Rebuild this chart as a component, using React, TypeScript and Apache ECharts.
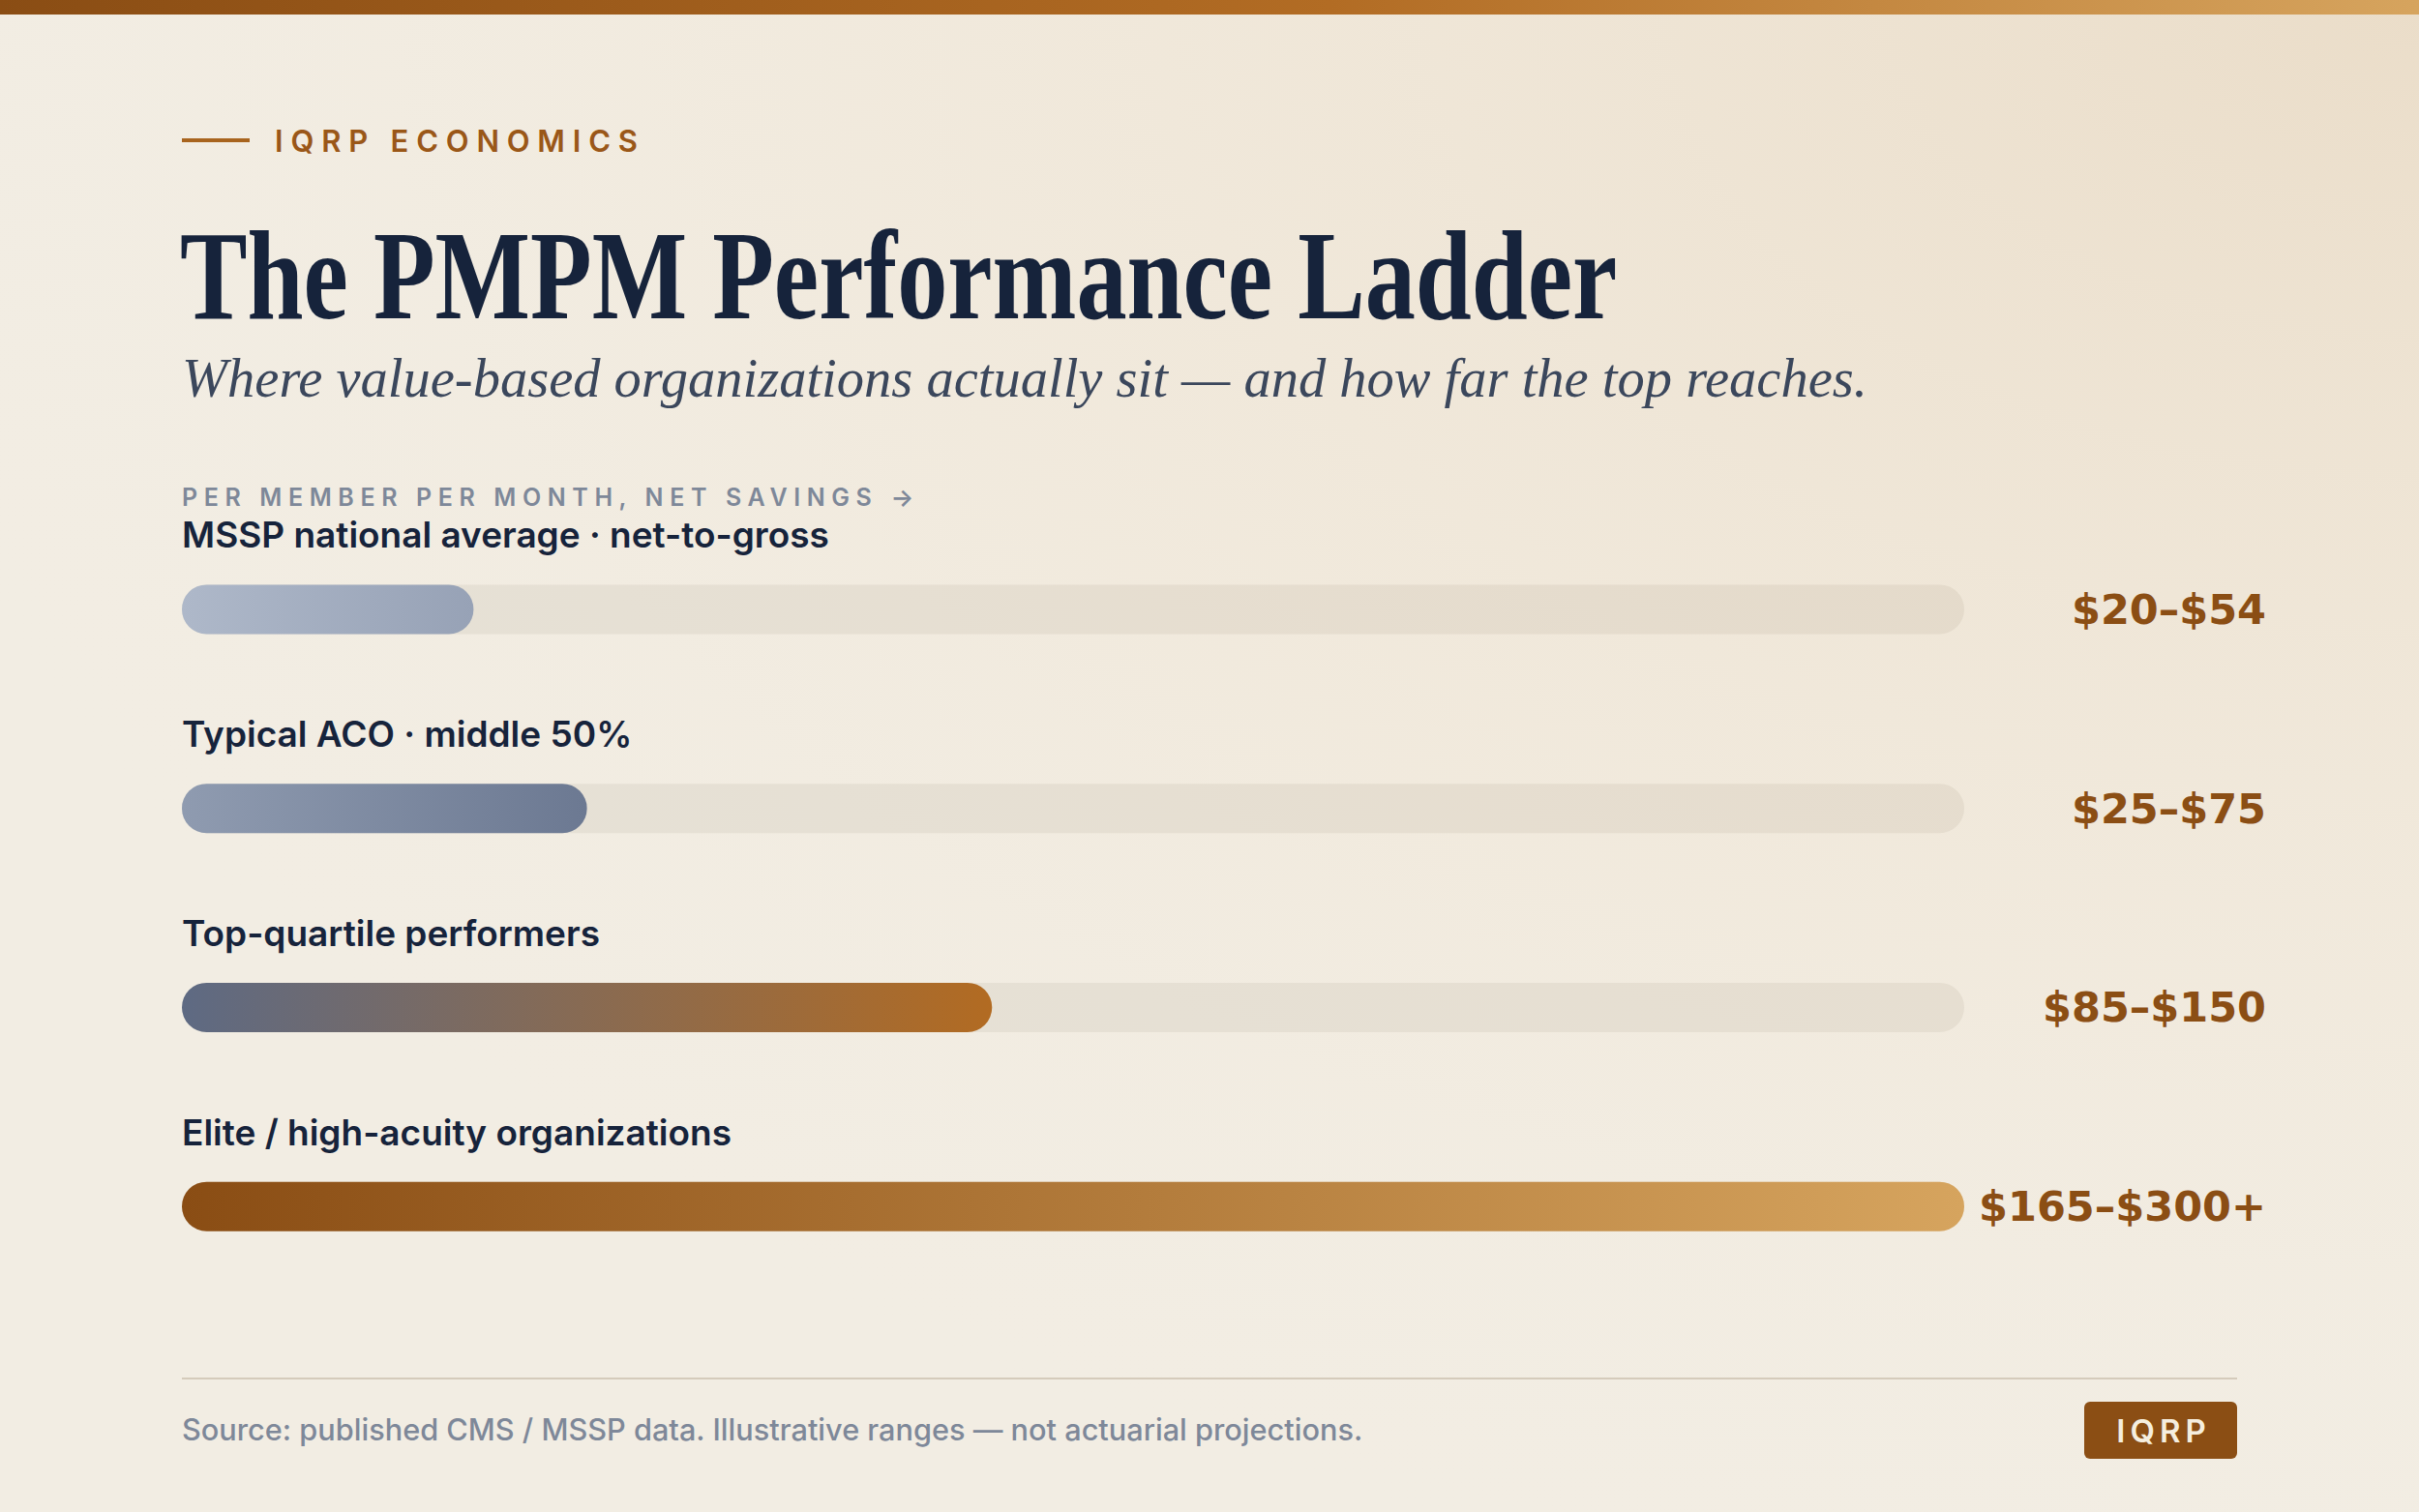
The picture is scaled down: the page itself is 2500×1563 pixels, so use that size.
import React, { useEffect, useRef } from 'react';
import * as echarts from 'echarts';

// ---- data ----
const categories = [
  'MSSP national average · net-to-gross',
  'Typical ACO · middle 50%',
  'Top-quartile performers',
  'Elite / high-acuity organizations',
];
const lowValues = [20, 25, 85, 165];
const highValues = [54, 75, 150, 300];
const openEnded = [false, false, false, true];
const axisMax = 330;
const rangeLabels = lowValues.map(
  (lo, i) => `$${lo}–$${highValues[i]}${openEnded[i] ? '+' : ''}`
);
// open-ended tier runs to the end of the track
const barValues = highValues.map((v, i) => (openEnded[i] ? axisMax : v));
const barGradients = [
  ['#AEB8C9', '#97A2B6'],
  ['#8F9BB0', '#6C7992'],
  ['#5E6A83', '#B26B22'],
  ['#8A4D14', '#D6A45E'],
];

const kicker = 'IQRP ECONOMICS';
const titleText = 'The PMPM Performance Ladder';
const subtitleText =
  'Where value-based organizations actually sit — and how far the top reaches.';
const axisCaption = 'PER MEMBER PER MONTH, NET SAVINGS →';
const sourceText =
  'Source: published CMS / MSSP data. Illustrative ranges — not actuarial projections.';
const badgeText = 'IQRP';

const NAVY = '#16233B';
const BRONZE = '#8B4E14';
const GREY = '#7E8899';

// tracking (letter-spacing, px) for the spaced-out caps texts
const tracking: Record<string, number> = {
  [kicker]: 7.8,
  [axisCaption]: 6.6,
  [badgeText]: 5,
};

function lin(c0: string, c1: string) {
  return new echarts.graphic.LinearGradient(0, 0, 1, 0, [
    { offset: 0, color: c0 },
    { offset: 1, color: c1 },
  ]);
}

export default function App() {
  const ref = useRef<HTMLDivElement>(null);

  useEffect(() => {
    if (!ref.current) return;
    const el = ref.current;
    const chart = echarts.init(el, undefined, { renderer: 'svg' });

    const applyTracking = () => {
      el.querySelectorAll('text').forEach((t) => {
        const s = tracking[t.textContent || ''];
        if (s !== undefined) t.setAttribute('letter-spacing', String(s));
      });
    };

    const option: any = {
      animation: false,
      backgroundColor: '#F2EDE3',
      grid: { left: 188, right: 470, top: 527, bottom: 213, containLabel: false },
      xAxis: { type: 'value', min: 0, max: axisMax, show: false },
      yAxis: [
        {
          type: 'category',
          data: categories,
          inverse: true,
          axisLine: { show: false },
          axisTick: { show: false },
          splitLine: { show: false },
          axisLabel: {
            inside: true,
            margin: 0,
            align: 'left',
            verticalAlign: 'bottom',
            lineHeight: 42,
            padding: [0, 0, 56, 0],
            color: NAVY,
            fontFamily: 'Inter',
            fontWeight: 600,
            fontSize: 37,
          },
        },
        {
          type: 'category',
          data: rangeLabels,
          inverse: true,
          position: 'right',
          axisLine: { show: false },
          axisTick: { show: false },
          splitLine: { show: false },
          axisLabel: {
            margin: 312,
            align: 'right',
            verticalAlign: 'middle',
            color: BRONZE,
            fontFamily: 'DejaVu Sans',
            fontWeight: 'bold',
            fontSize: 43,
          },
        },
      ],
      graphic: [
        {
          type: 'rect',
          z: -100,
          silent: true,
          shape: { x: 0, y: 0, width: 2500, height: 1563 },
          style: {
            fill: {
              type: 'radial',
              x: 1,
              y: 0,
              r: 1.1,
              colorStops: [
                { offset: 0, color: 'rgba(233,218,196,0.85)' },
                { offset: 0.6, color: 'rgba(240,230,214,0.45)' },
                { offset: 1, color: 'rgba(242,237,227,0)' },
              ],
            },
          },
        },
        {
          type: 'rect',
          z: 10,
          silent: true,
          shape: { x: 0, y: 0, width: 2500, height: 15 },
          style: {
            fill: new echarts.graphic.LinearGradient(0, 0, 1, 0, [
              { offset: 0, color: '#8A4D14' },
              { offset: 0.55, color: '#B26C24' },
              { offset: 1, color: '#D6A45E' },
            ]),
          },
        },
        {
          type: 'line',
          silent: true,
          shape: { x1: 188, y1: 145, x2: 258, y2: 145 },
          style: { stroke: '#A8641E', lineWidth: 4 },
        },
        {
          type: 'text',
          silent: true,
          x: 284,
          y: 145,
          style: {
            text: kicker,
            fill: '#9A5718',
            font: '600 31px Inter',
            textAlign: 'left',
            textVerticalAlign: 'middle',
            align: 'left',
            verticalAlign: 'middle',
          },
        },
        {
          type: 'text',
          silent: true,
          x: 186,
          y: 285,
          scaleX: 0.79,
          style: {
            text: titleText,
            fill: NAVY,
            font: 'bold 132px "Liberation Serif"',
            textAlign: 'left',
            textVerticalAlign: 'middle',
            align: 'left',
            verticalAlign: 'middle',
          },
        },
        {
          type: 'text',
          silent: true,
          x: 188,
          y: 391,
          style: {
            text: subtitleText,
            fill: '#3B475C',
            font: 'italic 56.5px "Liberation Serif"',
            textAlign: 'left',
            textVerticalAlign: 'middle',
            align: 'left',
            verticalAlign: 'middle',
          },
        },
        {
          type: 'text',
          silent: true,
          x: 188,
          y: 514,
          style: {
            text: axisCaption,
            fill: GREY,
            font: '600 25px Inter',
            textAlign: 'left',
            textVerticalAlign: 'middle',
            align: 'left',
            verticalAlign: 'middle',
          },
        },
        {
          type: 'line',
          silent: true,
          shape: { x1: 188, y1: 1425, x2: 2312, y2: 1425 },
          style: { stroke: '#D5CBBB', lineWidth: 2 },
        },
        {
          type: 'text',
          silent: true,
          x: 188,
          y: 1477,
          style: {
            text: sourceText,
            fill: GREY,
            font: '500 30.7px Inter',
            textAlign: 'left',
            textVerticalAlign: 'middle',
            align: 'left',
            verticalAlign: 'middle',
          },
        },
        {
          type: 'rect',
          silent: true,
          shape: { x: 2154, y: 1449, width: 158, height: 59, r: 6 },
          style: { fill: BRONZE },
        },
        {
          type: 'text',
          silent: true,
          x: 2236,
          y: 1479,
          style: {
            text: badgeText,
            fill: '#F5EEDF',
            font: '600 33px Inter',
            textAlign: 'center',
            textVerticalAlign: 'middle',
            align: 'center',
            verticalAlign: 'middle',
          },
        },
      ],
      series: [
        {
          type: 'bar',
          yAxisIndex: 0,
          barWidth: 51,
          showBackground: true,
          backgroundStyle: { color: 'rgba(90,70,40,0.07)', borderRadius: 26 },
          data: barValues.map((v, i) => ({
            value: v,
            itemStyle: {
              color: lin(barGradients[i][0], barGradients[i][1]),
              borderRadius: 26,
            },
          })),
          label: { show: false },
        },
      ],
    };

    chart.on('finished', applyTracking);
    chart.setOption(option);
    applyTracking();
    const raf = requestAnimationFrame(applyTracking);
    const tm = setTimeout(applyTracking, 100);
    return () => {
      cancelAnimationFrame(raf);
      clearTimeout(tm);
      chart.dispose();
    };
  }, []);

  return (
    <div
      ref={ref}
      style={{ position: 'fixed', left: 0, top: 0, width: 2500, height: 1563 }}
    />
  );
}
